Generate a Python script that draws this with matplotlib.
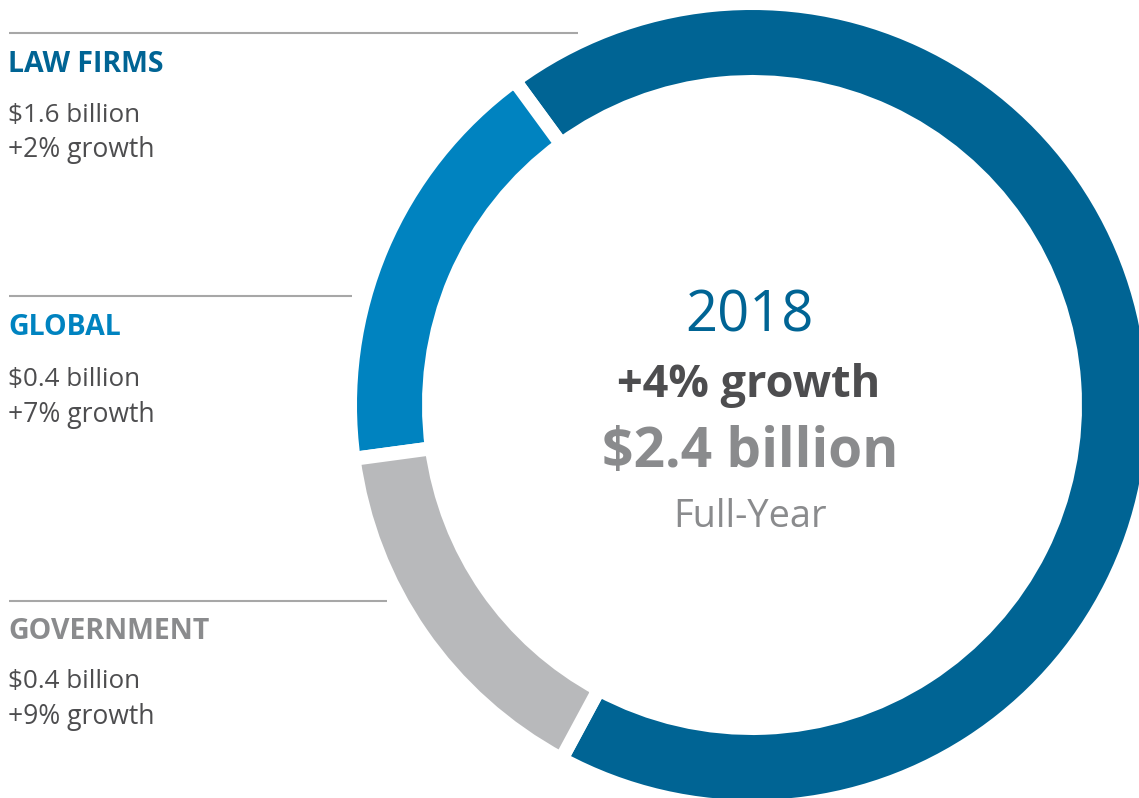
import matplotlib
matplotlib.use("Agg")
import matplotlib.pyplot as plt

# ---- data ----
segments = ["LAW FIRMS", "GLOBAL", "GOVERNMENT"]
segment_values = [1.63, 0.41, 0.36]          # arc shares read from the ring (billions)
value_labels = ["$1.6 billion", "$0.4 billion", "$0.4 billion"]
growth_labels = ["+2% growth", "+7% growth", "+9% growth"]
year_label = "2018"
total_growth = "+4% growth"
total_value = "$2.4 billion"
period_label = "Full-Year"

seg_colors = ["#006494", "#0083c0", "#b8b9bb"]
title_colors = ["#006494", "#0083c0", "#8a8b8d"]
body_color = "#4d4d4f"
gray_text = "#8a8b8d"

W, H = 1139, 798
plt.rcParams['font.family'] = ['Open Sans', 'DejaVu Sans']

fig = plt.figure(figsize=(W / 100, H / 100), dpi=100)
ax = fig.add_axes([0, 0, 1, 1])

def Y(ypx):
    return H - ypx

cx, cy = 752, 405
r_out, r_in, gap = 395, 330, 14
ax.pie(segment_values, colors=seg_colors, startangle=241.7, counterclock=True,
       center=(cx, Y(cy)), radius=r_out + gap / 2,
       wedgeprops=dict(width=(r_out - r_in) + gap, edgecolor="white",
                       linewidth=gap * 72 / 100))
ax.set_xlim(0, W)
ax.set_ylim(0, H)
ax.set_aspect("equal")
ax.axis("off")

pt = 72 / 100
# left labels
rules = [(33, 9, 578), (296, 9, 352), (601, 9, 387)]
title_base = [72, 335, 639]
value_base = [122, 386, 688]
growth_base = [157, 422, 724]
for i in range(3):
    yl, x0, x1 = rules[i]
    ax.plot([x0, x1], [Y(yl), Y(yl)], color="#a7a7a7", lw=1.5, solid_capstyle="butt")
    ax.text(8, Y(title_base[i]), segments[i], fontsize=28.5 * pt, fontweight="bold",
            color=title_colors[i], ha="left", va="baseline")
    ax.text(8, Y(value_base[i]), value_labels[i], fontsize=26 * pt,
            color=body_color, ha="left", va="baseline")
    ax.text(8, Y(growth_base[i]), growth_labels[i], fontsize=26.5 * pt,
            color=body_color, ha="left", va="baseline")

# center text
ax.text(749, Y(331), year_label, fontsize=56 * pt, color="#006494",
        ha="center", va="baseline")
ax.text(749, Y(397), total_growth, fontsize=45 * pt, fontweight="bold",
        color=body_color, ha="center", va="baseline")
ax.text(750, Y(467), total_value, fontsize=55 * pt, fontweight="bold",
        color=gray_text, ha="center", va="baseline")
ax.text(750, Y(527), period_label, fontsize=38 * pt, color=gray_text,
        ha="center", va="baseline")

fig.savefig("out.png", dpi=100)
